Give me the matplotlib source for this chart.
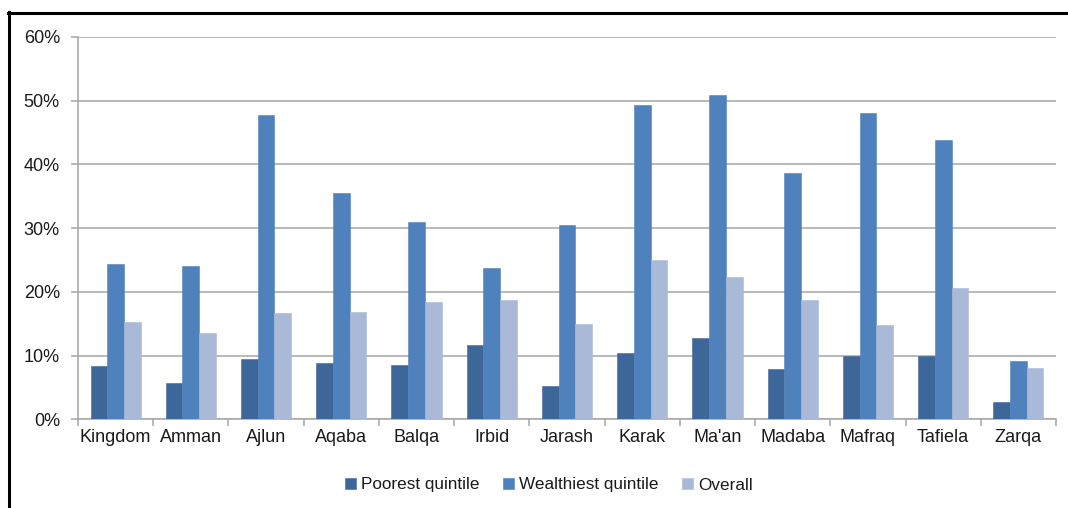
import numpy as np
import matplotlib
matplotlib.use("Agg")
import matplotlib.pyplot as plt
from matplotlib.lines import Line2D
from matplotlib.ticker import PercentFormatter, FixedLocator

plt.rcParams['font.family'] = ['Liberation Sans', 'DejaVu Sans']

regions = ["Kingdom", "Amman", "Ajlun", "Aqaba", "Balqa", "Irbid", "Jarash",
           "Karak", "Ma'an", "Madaba", "Mafraq", "Tafiela", "Zarqa"]
poorest = [8.3, 5.7, 9.5, 8.8, 8.5, 11.6, 5.3, 10.4, 12.7, 7.9, 10.0, 9.9, 2.7]
wealthiest = [24.3, 24.1, 47.7, 35.5, 31.0, 23.8, 30.5, 49.3, 50.9, 38.6, 48.1, 43.8, 9.2]
overall = [15.2, 13.6, 16.7, 16.8, 18.4, 18.8, 15.0, 25.0, 22.4, 18.8, 14.8, 20.6, 8.1]

series = [("Poorest quintile", poorest, "#3E6799"),
          ("Wealthiest quintile", wealthiest, "#4F81BD"),
          ("Overall", overall, "#AAB9D7")]

fig = plt.figure(figsize=(10.68, 5.08), dpi=100)
ax = fig.add_axes([0.073, 0.1746, 0.9158, 0.7526])

x = np.arange(len(regions))
w = 0.222
for i, (name, vals, col) in enumerate(series):
    ax.bar(x + (i - 1) * w, vals, w, color=col, label=name, zorder=3,
           edgecolor=col, linewidth=0.4)

ax.set_xlim(-0.5, len(regions) - 0.5)
ax.set_ylim(0, 60)
ax.set_yticks(range(0, 61, 10))
ax.yaxis.set_major_formatter(PercentFormatter(decimals=0))
ax.grid(axis='y', color='#A6A6A6', linewidth=1.1, zorder=0)

ax.set_xticks(x)
ax.set_xticklabels(regions)
ax.xaxis.set_minor_locator(FixedLocator(np.arange(-0.5, len(regions), 1)))
ax.tick_params(axis='x', which='major', length=0, pad=7, labelsize=13, labelcolor='#1A1A1A')
ax.tick_params(axis='x', which='minor', length=5, width=1.1, color='#A6A6A6', direction='out')
ax.tick_params(axis='y', length=5, width=1.1, color='#A6A6A6', pad=8, labelsize=13,
               labelcolor='#1A1A1A')

for s in ['top', 'right']:
    ax.spines[s].set_visible(False)
for s in ['left', 'bottom']:
    ax.spines[s].set_color('#A6A6A6')
    ax.spines[s].set_linewidth(1.1)

fig.legend(loc='center', bbox_to_anchor=(0.514, 1 - 485 / 508), ncol=3, frameon=False,
           fontsize=12.3, handlelength=0.65, handleheight=0.65, handletextpad=0.3,
           columnspacing=1.35, labelcolor='#1A1A1A')

# frame around the chart area (left and top edges)
fig.add_artist(Line2D([8.5 / 1068, 8.5 / 1068], [0, 1 - 12 / 508], color='black',
                      linewidth=2.2, transform=fig.transFigure))
fig.add_artist(Line2D([7.5 / 1068, 1], [1 - 12.5 / 508, 1 - 12.5 / 508], color='black',
                      linewidth=2.2, transform=fig.transFigure))

plt.savefig("out.png", dpi=100)
